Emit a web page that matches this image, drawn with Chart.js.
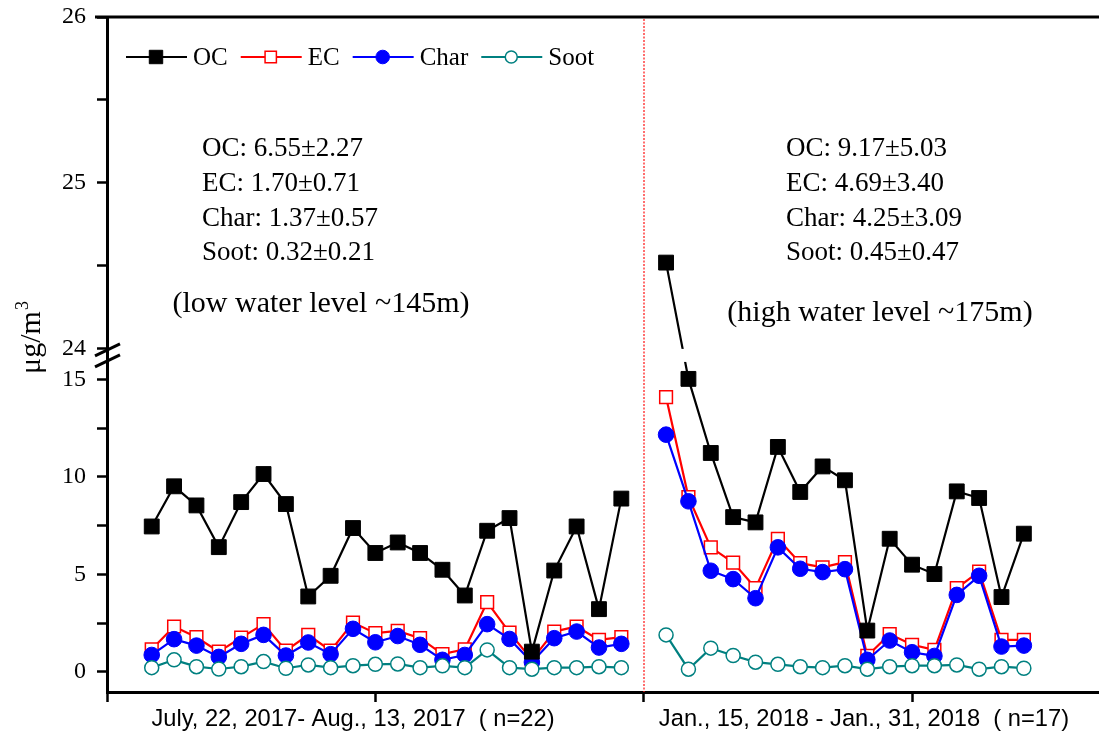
<!DOCTYPE html>
<html>
<head>
<meta charset="utf-8">
<script src="https://cdn.jsdelivr.net/npm/chart.js@4.4.1/dist/chart.umd.min.js"></script>
<style>
  html, body { margin: 0; padding: 0; background: #fff; }
</style>
</head>
<body>
<canvas id="chart" width="1099" height="740"></canvas>
<script>
// ---- sampling campaigns ----
const periodLabels = ['July, 22, 2017- Aug., 13, 2017  ( n=22)', 'Jan., 15, 2018 - Jan., 31, 2018  ( n=17)'];
const periodLabelAt = [9, 31.85];         // x position (sample index) of each period label
const dividerAt = 22;                      // index separating the two campaigns

// ---- daily concentrations (µg/m3), summer campaign ----
const ocSummer   = [7.46, 9.52, 8.54, 6.40, 8.71, 10.15, 8.61, 3.87, 4.93, 7.38, 6.10, 6.64, 6.10, 5.24, 3.92, 7.24, 7.89, 1.04, 5.20, 7.46, 3.22, 8.89];
const ecSummer   = [1.16, 2.33, 1.78, 1.04, 1.76, 2.45, 1.09, 1.90, 1.09, 2.53, 1.99, 2.10, 1.73, 0.91, 1.16, 3.58, 2.02, 0.62, 2.07, 2.33, 1.64, 1.78];
const charSummer = [0.87, 1.68, 1.35, 0.77, 1.44, 1.90, 0.84, 1.51, 0.91, 2.21, 1.52, 1.84, 1.39, 0.62, 0.87, 2.45, 1.69, 0.50, 1.73, 2.07, 1.25, 1.44];
const sootSummer = [0.22, 0.62, 0.27, 0.15, 0.27, 0.53, 0.19, 0.36, 0.22, 0.32, 0.39, 0.41, 0.22, 0.31, 0.22, 1.13, 0.22, 0.14, 0.22, 0.22, 0.27, 0.22];

// ---- daily concentrations (µg/m3), winter campaign ----
const ocWinter   = [24.52, 15.03, 11.23, 7.94, 7.67, 11.54, 9.23, 10.54, 9.83, 2.12, 6.83, 5.50, 5.02, 9.26, 8.92, 3.84, 7.09];
const ecWinter   = [14.10, 8.97, 6.39, 5.61, 4.30, 6.83, 5.58, 5.36, 5.63, 0.82, 1.94, 1.39, 1.13, 4.30, 5.15, 1.64, 1.64];
const charWinter = [12.17, 8.75, 5.19, 4.76, 3.78, 6.39, 5.29, 5.12, 5.27, 0.62, 1.61, 1.01, 0.82, 3.95, 4.93, 1.30, 1.35];
const sootWinter = [1.90, 0.14, 1.22, 0.84, 0.50, 0.39, 0.27, 0.22, 0.32, 0.14, 0.27, 0.32, 0.32, 0.36, 0.14, 0.27, 0.19];

// ---- summary statistics ----
const summerStats = ['OC: 6.55±2.27', 'EC: 1.70±0.71', 'Char: 1.37±0.57', 'Soot: 0.32±0.21'];
const winterStats = ['OC: 9.17±5.03', 'EC: 4.69±3.40', 'Char: 4.25±3.09', 'Soot: 0.45±0.47'];
const summerNote = '(low water level ~145m)';
const winterNote = '(high water level ~175m)';

// ---- axes ----
const yTicks = [0, 2.5, 5, 7.5, 10, 12.5, 15, 24, 24.5, 25, 25.5, 26];
const yLabeled = [0, 5, 10, 15, 24, 25, 26];
const xTicks = [-2, 10, 22, 34];

// broken axis: lower segment up to lowMax, upper segment from highMin
const BREAK = { lowMax: 15.9, highMin: 24, lowShare: 0.489, gapShare: 0.0193 };

class BrokenLinearScale extends Chart.LinearScale {
  fold(v) {
    const min = this.min, max = this.max, b = BREAK;
    if (v <= b.lowMax) return (v - min) / (b.lowMax - min) * b.lowShare;
    if (v >= b.highMin) return b.lowShare + b.gapShare + (v - b.highMin) / (max - b.highMin) * (1 - b.lowShare - b.gapShare);
    return b.lowShare + (v - b.lowMax) / (b.highMin - b.lowMax) * b.gapShare;
  }
  getPixelForValue(value) {
    if (value === null || value === undefined || isNaN(value)) return NaN;
    return this.getPixelForDecimal(this.fold(value));
  }
  getValueForPixel(pixel) {
    const f = this.getDecimalForPixel(pixel), b = BREAK;
    const min = this.min, max = this.max;
    if (f <= b.lowShare) return min + f / b.lowShare * (b.lowMax - min);
    if (f >= b.lowShare + b.gapShare) return b.highMin + (f - b.lowShare - b.gapShare) / (1 - b.lowShare - b.gapShare) * (max - b.highMin);
    return b.lowMax + (f - b.lowShare) / b.gapShare * (b.highMin - b.lowMax);
  }
}
BrokenLinearScale.id = 'brokenLinear';
BrokenLinearScale.defaults = Chart.LinearScale.defaults;
Chart.register(BrokenLinearScale);

function join(a, b) {
  return [
    ...a.map((v, i) => ({ x: i, y: v })),
    { x: a.length, y: null },
    ...b.map((v, i) => ({ x: a.length + 1 + i, y: v }))
  ];
}

const SERIF = '"Liberation Serif", "Times New Roman", serif';
const SANS = '"Liberation Sans", Arial, sans-serif';

const datasets = [
  { label: 'OC', data: join(ocSummer, ocWinter), borderColor: '#000000', backgroundColor: '#000000',
    pointStyle: 'rect', pointRadius: 10.5, pointBorderWidth: 1, order: 0 },
  { label: 'EC', data: join(ecSummer, ecWinter), borderColor: '#ff0000', backgroundColor: '#ffffff',
    pointStyle: 'rect', pointRadius: 9, pointBorderWidth: 1.5, order: 3 },
  { label: 'Char', data: join(charSummer, charWinter), borderColor: '#0000ff', backgroundColor: '#0000ff',
    pointStyle: 'circle', pointRadius: 7.8, pointBorderWidth: 1, order: 2 },
  { label: 'Soot', data: join(sootSummer, sootWinter), borderColor: '#008080', backgroundColor: '#ffffff',
    pointStyle: 'circle', pointRadius: 7, pointBorderWidth: 1.5, order: 1 }
];
datasets.forEach(d => { d.borderWidth = 2.2; d.tension = 0; d.spanGaps = false; d.pointHoverRadius = d.pointRadius; });

function drawMarker(ctx, ds, x, y, r) {
  ctx.save();
  ctx.fillStyle = ds.backgroundColor;
  ctx.strokeStyle = ds.borderColor;
  ctx.lineWidth = ds.pointBorderWidth;
  ctx.beginPath();
  if (ds.pointStyle === 'rect') {
    const s = r * Math.SQRT1_2;
    ctx.rect(x - s, y - s, 2 * s, 2 * s);
  } else {
    ctx.arc(x, y, r, 0, Math.PI * 2);
  }
  ctx.fill();
  ctx.stroke();
  ctx.restore();
}

const decorations = {
  id: 'decorations',
  afterDatasetsDraw(chart) {
    const { ctx, chartArea: a, scales: { x, y } } = chart;
    // blank band across the axis break
    const yHi = y.getPixelForValue(BREAK.highMin);
    const yLo = y.getPixelForValue(BREAK.lowMax);
    ctx.save();
    ctx.fillStyle = '#ffffff';
    ctx.fillRect(a.left + 2, yHi, a.right - a.left - 2, yLo - yHi);
    // dotted divider between campaigns
    const xd = Math.round(x.getPixelForValue(dividerAt));
    ctx.strokeStyle = '#ff2020';
    ctx.lineWidth = 1.3;
    ctx.setLineDash([2, 1.5]);
    ctx.beginPath();
    ctx.moveTo(xd, a.top + 2);
    ctx.lineTo(xd, a.bottom);
    ctx.stroke();
    ctx.restore();
  },
  afterDraw(chart) {
    const { ctx, chartArea: a, scales: { x, y } } = chart;
    ctx.save();
    // top frame line
    ctx.strokeStyle = '#000';
    ctx.lineWidth = 3;
    ctx.beginPath();
    ctx.moveTo(a.left - 12, a.top);
    ctx.lineTo(chart.width, a.top);
    ctx.stroke();

    // break marks on the y axis
    const yHi = y.getPixelForValue(BREAK.highMin);
    const yLo = y.getPixelForValue(BREAK.lowMax);
    [yHi + 1, yLo - 1].forEach(yy => {
      ctx.beginPath();
      ctx.moveTo(a.left - 12, yy + 6);
      ctx.lineTo(a.left + 13, yy - 6);
      ctx.stroke();
    });

    // legend: line + marker + label
    ctx.font = '25px ' + SERIF;
    ctx.textBaseline = 'middle';
    ctx.textAlign = 'left';
    let lx = 126;
    const ly = 57;
    chart.data.datasets.forEach(ds => {
      ctx.strokeStyle = ds.borderColor;
      ctx.lineWidth = 2;
      ctx.beginPath();
      ctx.moveTo(lx, ly);
      ctx.lineTo(lx + 61, ly);
      ctx.stroke();
      drawMarker(ctx, ds, lx + 30, ly, ds.pointRadius - 1);
      ctx.fillStyle = '#000';
      ctx.fillText(ds.label, lx + 67, ly + 1);
      lx += 67 + ctx.measureText(ds.label).width + 13;
    });

    // summary statistics
    ctx.fillStyle = '#000';
    ctx.font = '27px ' + SERIF;
    const rows = [149, 184, 219, 253];
    summerStats.forEach((t, i) => ctx.fillText(t, 202, rows[i]));
    winterStats.forEach((t, i) => ctx.fillText(t, 786, rows[i]));
    ctx.font = '30px ' + SERIF;
    ctx.textAlign = 'center';
    ctx.fillText(summerNote, 321, 304);
    ctx.fillText(winterNote, 880, 313);

    // y axis title
    ctx.save();
    ctx.translate(40, 338);
    ctx.rotate(-Math.PI / 2);
    ctx.textBaseline = 'alphabetic';
    ctx.textAlign = 'left';
    ctx.font = '30px ' + SERIF;
    const base = 'μg/m';
    const wBase = ctx.measureText(base).width;
    ctx.font = '18px ' + SERIF;
    const wSup = ctx.measureText('3').width;
    const start = -(wBase + wSup) / 2;
    ctx.font = '30px ' + SERIF;
    ctx.fillText(base, start, 0);
    ctx.font = '18px ' + SERIF;
    ctx.fillText('3', start + wBase + 1, -12);
    ctx.restore();

    // campaign labels under the x axis
    ctx.font = '23.7px ' + SANS;
    ctx.textAlign = 'center';
    ctx.textBaseline = 'middle';
    periodLabels.forEach((t, i) => ctx.fillText(t, x.getPixelForValue(periodLabelAt[i]), 719));
    ctx.restore();
  }
};

new Chart(document.getElementById('chart'), {
  type: 'line',
  data: { datasets },
  options: {
    responsive: false,
    animation: false,
    devicePixelRatio: 1,
    layout: { autoPadding: false, padding: { top: 17, right: 0, bottom: 0, left: 0 } },
    plugins: { legend: { display: false }, tooltip: { enabled: false } },
    scales: {
      x: {
        type: 'linear',
        min: -2,
        max: 42.36,
        afterBuildTicks: s => { s.ticks = xTicks.map(v => ({ value: v })); },
        afterFit: s => { s.height = 48; s.paddingLeft = 0; s.paddingRight = 0; },
        ticks: { callback: () => '', autoSkip: false, padding: 0 },
        grid: { drawOnChartArea: false, drawTicks: true, tickLength: 10, tickWidth: 2.5, tickColor: '#000' },
        border: { display: true, color: '#000', width: 3 }
      },
      y: {
        type: 'brokenLinear',
        min: -1.03,
        max: 26,
        afterBuildTicks: s => { s.ticks = yTicks.map(v => ({ value: v })); },
        afterFit: s => { s.width = 107; s.paddingTop = 0; s.paddingBottom = 0; },
        ticks: {
          autoSkip: false,
          padding: 11,
          color: '#000',
          font: { family: SERIF, size: 24 },
          callback: v => (yLabeled.includes(v) ? String(v) : '')
        },
        grid: { drawOnChartArea: false, drawTicks: true, tickLength: 10, tickWidth: 2.5, tickColor: '#000' },
        border: { display: true, color: '#000', width: 3 }
      }
    }
  },
  plugins: [decorations]
});
</script>
</body>
</html>
